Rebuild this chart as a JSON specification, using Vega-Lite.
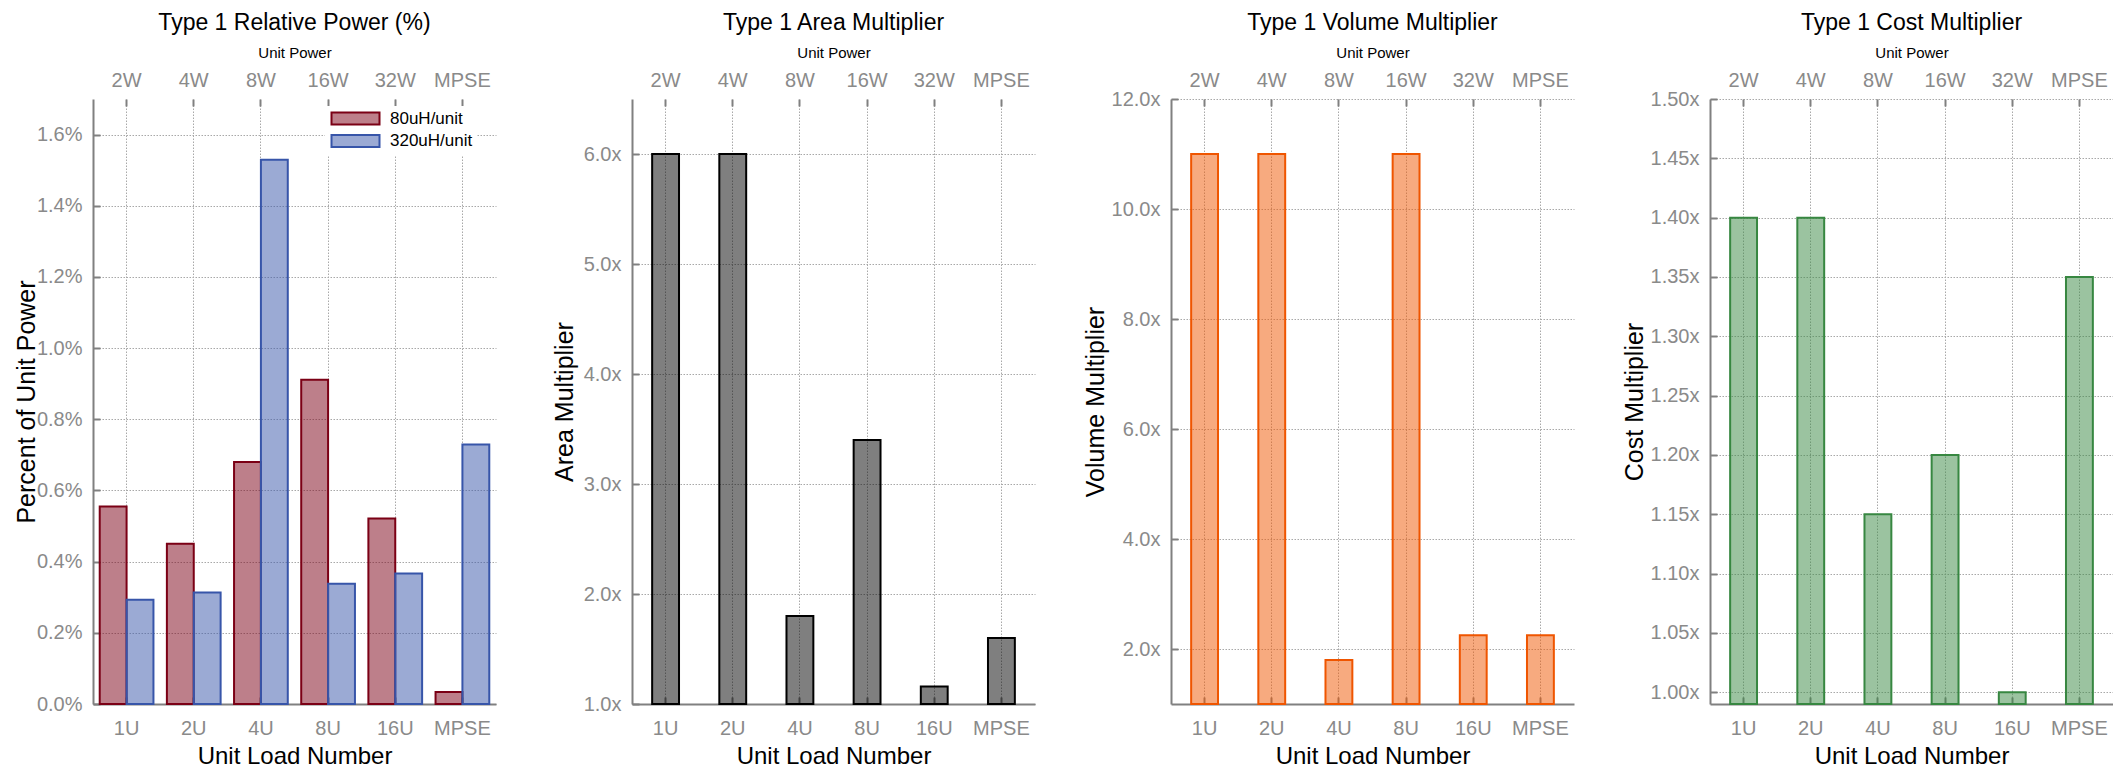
{
  "$schema": "https://vega.github.io/schema/vega-lite/v6.json",
  "background": "white",
  "padding": {"left": 14, "top": 12, "right": 0, "bottom": 0},
  "bounds": "flush",
  "spacing": 136,
  "datasets": {
    "power": [
      {"load": "1U", "power": "2W", "series": "80uH/unit", "value": 0.555},
      {"load": "1U", "power": "2W", "series": "320uH/unit", "value": 0.293},
      {"load": "2U", "power": "4W", "series": "80uH/unit", "value": 0.450},
      {"load": "2U", "power": "4W", "series": "320uH/unit", "value": 0.313},
      {"load": "4U", "power": "8W", "series": "80uH/unit", "value": 0.680},
      {"load": "4U", "power": "8W", "series": "320uH/unit", "value": 1.529},
      {"load": "8U", "power": "16W", "series": "80uH/unit", "value": 0.911},
      {"load": "8U", "power": "16W", "series": "320uH/unit", "value": 0.338},
      {"load": "16U", "power": "32W", "series": "80uH/unit", "value": 0.521},
      {"load": "16U", "power": "32W", "series": "320uH/unit", "value": 0.367},
      {"load": "MPSE", "power": "MPSE", "series": "80uH/unit", "value": 0.034},
      {"load": "MPSE", "power": "MPSE", "series": "320uH/unit", "value": 0.729}
    ],
    "mult": [
      {"load": "1U", "power": "2W", "area": 6.0, "volume": 11.0, "cost": 1.40},
      {"load": "2U", "power": "4W", "area": 6.0, "volume": 11.0, "cost": 1.40},
      {"load": "4U", "power": "8W", "area": 1.8, "volume": 1.8, "cost": 1.15},
      {"load": "8U", "power": "16W", "area": 3.4, "volume": 11.0, "cost": 1.20},
      {"load": "16U", "power": "32W", "area": 1.16, "volume": 2.25, "cost": 1.00},
      {"load": "MPSE", "power": "MPSE", "area": 1.6, "volume": 2.25, "cost": 1.35}
    ]
  },
  "config": {
    "view": {"stroke": null},
    "font": "Liberation Sans",
    "title": {"font": "Liberation Sans", "fontSize": 23, "fontWeight": "normal", "color": "black", "anchor": "middle", "baseline": "alphabetic", "offset": 10},
    "axis": {
      "domainColor": "#808080", "domainWidth": 2,
      "tickColor": "#808080", "tickWidth": 2, "tickSize": -7,
      "labelColor": "#8a8a8a", "labelFont": "Liberation Sans", "labelFontSize": 20,
      "titleFont": "Liberation Sans", "titleColor": "black", "titleFontWeight": "normal", "titleFontSize": 24,
      "gridColor": "#a8a8a8", "gridDash": [1.5, 1.5], "gridWidth": 1
    },
    "axisX": {"labelAngle": 0},
    "axisBottom": {"labelPadding": 21, "titleBaseline": "alphabetic", "titleX": 201.5, "titleY": 59, "grid": true, "bandPosition": 0.5},
    "axisTop": {"labelPadding": 16, "titleBaseline": "alphabetic", "titleX": 201.5, "titleY": -42, "titleFontSize": 15, "domain": false, "grid": false, "bandPosition": 0.5},
    "axisLeft": {"labelPadding": 18, "titleBaseline": "alphabetic", "titleY": 302.5, "titleFontSize": 25, "grid": true},
    "legend": {"labelFont": "Liberation Sans", "labelFontSize": 17, "labelColor": "black"}
  },
  "hconcat": [
    {
      "width": 403, "height": 605,
      "title": "Type 1 Relative Power (%)",
      "layer": [
        {
          "data": {"name": "power"},
          "mark": {"type": "bar", "fillOpacity": 0.5, "strokeWidth": 2},
          "encoding": {
            "x": {"field": "load", "type": "nominal", "sort": ["1U", "2U", "4U", "8U", "16U", "MPSE"],
                  "scale": {"paddingInner": 0.2, "paddingOuter": 0.1},
                  "axis": {"orient": "bottom", "title": "Unit Load Number"}},
            "xOffset": {"field": "series", "type": "nominal", "sort": ["80uH/unit", "320uH/unit"], "scale": {"paddingInner": 0, "paddingOuter": 0}},
            "y": {"field": "value", "type": "quantitative", "scale": {"domain": [0, 1.7], "nice": false, "zero": true},
                  "axis": {"title": "Percent of Unit Power", "titleX": -59, "values": [0, 0.2, 0.4, 0.6, 0.8, 1.0, 1.2, 1.4, 1.6], "labelExpr": "format(datum.value, '.1f') + '%'"}},
            "fill": {"field": "series", "type": "nominal", "sort": ["80uH/unit", "320uH/unit"],
                     "scale": {"domain": ["80uH/unit", "320uH/unit"], "range": ["#7b0015", "#3755a9"]},
                     "legend": {"title": null, "orient": "none", "legendX": 232, "legendY": 7, "padding": 4, "fillColor": "white",
                                "symbolType": "M-4,-1H4V1H-4Z", "symbolSize": 144, "symbolStrokeWidth": 2, "symbolOffset": 18, "labelOffset": 26, "rowPadding": 1.5,
                                "encode": {"symbols": {"update": {"fillOpacity": {"value": 0.5}}}}}},
            "stroke": {"field": "series", "type": "nominal", "sort": ["80uH/unit", "320uH/unit"],
                       "scale": {"domain": ["80uH/unit", "320uH/unit"], "range": ["#7b0015", "#3755a9"]},
                       "legend": {"title": null, "orient": "none", "legendX": 232, "legendY": 7, "padding": 4, "fillColor": "white",
                                "symbolType": "M-4,-1H4V1H-4Z", "symbolSize": 144, "symbolStrokeWidth": 2, "symbolOffset": 18, "labelOffset": 26, "rowPadding": 1.5,
                                "encode": {"symbols": {"update": {"fillOpacity": {"value": 0.5}}}}}}
          }
        },
        {
          "data": {"name": "power"},
          "mark": {"type": "bar", "opacity": 0},
          "encoding": {
            "x": {"field": "power", "type": "nominal", "sort": ["2W", "4W", "8W", "16W", "32W", "MPSE"],
                  "scale": {"paddingInner": 0.2, "paddingOuter": 0.1},
                  "axis": {"orient": "top", "title": "Unit Power"}}
          }
        }
      ],
      "resolve": {"scale": {"x": "independent"}}
    },
    {
      "width": 403, "height": 605,
      "title": "Type 1 Area Multiplier",
      "layer": [
        {
          "data": {"name": "mult"},
          "mark": {"type": "bar", "fill": "#000000", "fillOpacity": 0.5, "stroke": "#000000", "strokeWidth": 2, "width": {"band": 0.5}},
          "encoding": {
            "x": {"field": "load", "type": "nominal", "sort": ["1U", "2U", "4U", "8U", "16U", "MPSE"],
                  "scale": {"paddingInner": 0.2, "paddingOuter": 0.1},
                  "axis": {"orient": "bottom", "title": "Unit Load Number"}},
            "y": {"field": "area", "type": "quantitative", "scale": {"domain": [1, 6.5], "nice": false, "zero": false, "clamp": true},
                  "axis": {"title": "Area Multiplier", "titleX": -60, "values": [1, 2, 3, 4, 5, 6], "labelExpr": "format(datum.value, '.1f') + 'x'"}}
          }
        },
        {
          "data": {"name": "mult"},
          "mark": {"type": "bar", "opacity": 0},
          "encoding": {
            "x": {"field": "power", "type": "nominal", "sort": ["2W", "4W", "8W", "16W", "32W", "MPSE"],
                  "scale": {"paddingInner": 0.2, "paddingOuter": 0.1},
                  "axis": {"orient": "top", "title": "Unit Power"}}
          }
        }
      ],
      "resolve": {"scale": {"x": "independent"}}
    },
    {
      "width": 403, "height": 605,
      "title": "Type 1 Volume Multiplier",
      "layer": [
        {
          "data": {"name": "mult"},
          "mark": {"type": "bar", "fill": "#ef5500", "fillOpacity": 0.5, "stroke": "#ef5500", "strokeWidth": 2, "width": {"band": 0.5}},
          "encoding": {
            "x": {"field": "load", "type": "nominal", "sort": ["1U", "2U", "4U", "8U", "16U", "MPSE"],
                  "scale": {"paddingInner": 0.2, "paddingOuter": 0.1},
                  "axis": {"orient": "bottom", "title": "Unit Load Number"}},
            "y": {"field": "volume", "type": "quantitative", "scale": {"domain": [1, 12], "nice": false, "zero": false, "clamp": true},
                  "axis": {"title": "Volume Multiplier", "titleX": -68, "values": [2, 4, 6, 8, 10, 12], "labelExpr": "format(datum.value, '.1f') + 'x'"}}
          }
        },
        {
          "data": {"name": "mult"},
          "mark": {"type": "bar", "opacity": 0},
          "encoding": {
            "x": {"field": "power", "type": "nominal", "sort": ["2W", "4W", "8W", "16W", "32W", "MPSE"],
                  "scale": {"paddingInner": 0.2, "paddingOuter": 0.1},
                  "axis": {"orient": "top", "title": "Unit Power"}}
          }
        }
      ],
      "resolve": {"scale": {"x": "independent"}}
    },
    {
      "width": 403, "height": 605,
      "title": "Type 1 Cost Multiplier",
      "layer": [
        {
          "data": {"name": "mult"},
          "mark": {"type": "bar", "fill": "#378741", "fillOpacity": 0.5, "stroke": "#378741", "strokeWidth": 2, "width": {"band": 0.5}},
          "encoding": {
            "x": {"field": "load", "type": "nominal", "sort": ["1U", "2U", "4U", "8U", "16U", "MPSE"],
                  "scale": {"paddingInner": 0.2, "paddingOuter": 0.1},
                  "axis": {"orient": "bottom", "title": "Unit Load Number"}},
            "y": {"field": "cost", "type": "quantitative", "scale": {"domain": [0.99, 1.5], "nice": false, "zero": false, "clamp": true},
                  "axis": {"title": "Cost Multiplier", "titleX": -68, "values": [1.0, 1.05, 1.1, 1.15, 1.2, 1.25, 1.3, 1.35, 1.4, 1.45, 1.5], "labelExpr": "format(datum.value, '.2f') + 'x'"}}
          }
        },
        {
          "data": {"name": "mult"},
          "mark": {"type": "bar", "opacity": 0},
          "encoding": {
            "x": {"field": "power", "type": "nominal", "sort": ["2W", "4W", "8W", "16W", "32W", "MPSE"],
                  "scale": {"paddingInner": 0.2, "paddingOuter": 0.1},
                  "axis": {"orient": "top", "title": "Unit Power"}}
          }
        }
      ],
      "resolve": {"scale": {"x": "independent"}}
    }
  ]
}
